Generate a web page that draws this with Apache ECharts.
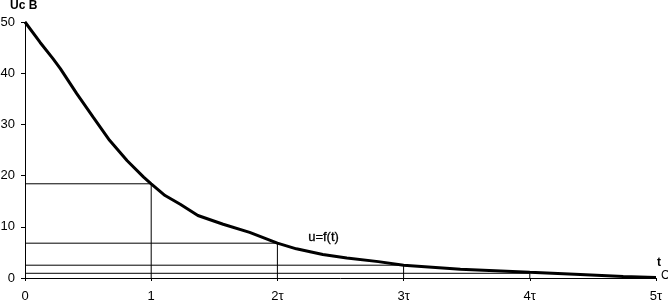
<!DOCTYPE html>
<html><head><meta charset="utf-8">
<script src="https://cdn.jsdelivr.net/npm/echarts@6/dist/echarts.min.js"></script>
<style>html,body{margin:0;padding:0;background:#fff}#c{width:668px;height:301px}</style>
</head><body><div id="c"></div>
<script>
// curve u = f(t), t in units of tau
const tValues = [0,0.12,0.22,0.28,0.41,0.54,0.67,0.81,0.94,1.0,1.11,1.23,1.37,1.57,1.78,2.0,2.15,2.36,2.55,2.8,3.0,3.45,4.0,4.4,4.74,5.0];
const uValues = [50,46.0,42.9,40.9,36.0,31.4,26.9,22.9,19.7,18.4,16.1,14.4,12.2,10.5,8.9,6.8,5.7,4.6,3.9,3.2,2.5,1.7,1.1,0.7,0.3,0.1];
// reference levels at t = k*tau
const tauMarks = [1,2,3,4];
const tauLevels = [18.4,6.8,2.5,0.92];
const yTicks = [0,10,20,30,40,50];
const xTickLabels = ['0','1','2τ','3τ','4τ','5τ'];

const chart = echarts.init(document.getElementById('c'));
const font = 'Liberation Sans, Arial, sans-serif';
const series = [];
tauMarks.forEach((k,i)=>{
  series.push({type:'line', data:[[0,tauLevels[i]],[k,tauLevels[i]],[k,0]], showSymbol:false, silent:true,
    lineStyle:{color:'#000',width:1}, z:1, animation:false});
});
series.push({type:'line', data:tValues.map((t,i)=>[t,uValues[i]]), showSymbol:false, smooth:false,
  lineStyle:{color:'#000',width:3}, z:3, animation:false});

chart.setOption({
  animation:false,
  grid:{left:25,right:12,top:22,bottom:23,containLabel:false,outerBoundsMode:'none'},
  xAxis:{type:'value',min:0,max:5,interval:1,
    axisLine:{show:true,lineStyle:{color:'#000',width:1}},
    axisTick:{show:true,length:3,lineStyle:{color:'#000'}},
    splitLine:{show:false},
    axisLabel:{color:'#000',fontFamily:font,fontSize:13,margin:12,
      formatter:(v)=>xTickLabels[Math.round(v)]}},
  yAxis:{type:'value',min:0,max:50,interval:10,
    axisLine:{show:true,lineStyle:{color:'#000',width:1}},
    axisTick:{show:true,length:4,lineStyle:{color:'#000'}},
    splitLine:{show:false},
    axisLabel:{color:'#000',fontFamily:font,fontSize:13,margin:10,
      formatter:(v)=>yTicks.includes(v)?String(v):''}},
  graphic:[
    {type:'text',left:10,top:0,style:{text:'Uc B',fontFamily:font,fontSize:12,fontWeight:'bold',fill:'#000'}},
    {type:'text',left:308,top:231,style:{text:'u=f(t)',fontFamily:font,fontSize:13,fill:'#000',stroke:'#000',lineWidth:0.3}},
    {type:'text',left:657,top:257,style:{text:'t',fontFamily:font,fontSize:12,fontWeight:'bold',fill:'#000'}},
    {type:'text',left:661,top:270,style:{text:'C',fontFamily:font,fontSize:12,fill:'#000'}}
  ],
  series
});
</script></body></html>
